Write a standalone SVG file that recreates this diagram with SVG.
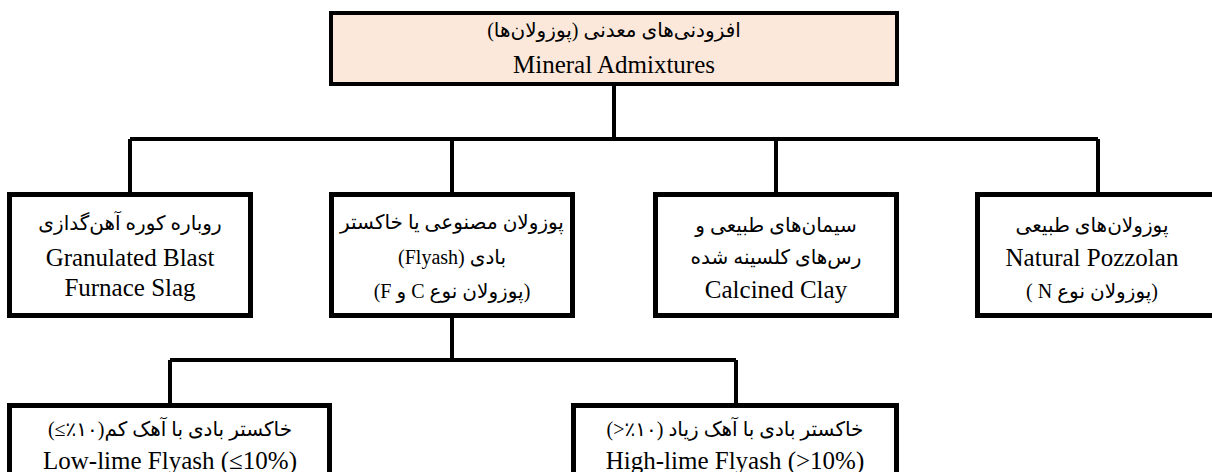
<svg xmlns="http://www.w3.org/2000/svg" width="1212" height="472" viewBox="0 0 1212 472">
<style>
.box{fill:#ffffff;stroke:#000;stroke-width:5}
.top{fill:#fce8da;stroke:#000;stroke-width:4}
.conn{stroke:#000;stroke-width:4;fill:none}
.en{font-family:'Liberation Serif','Times New Roman',serif;font-size:25px;fill:#000;text-anchor:middle}
.fa{font-family:'Liberation Serif','DejaVu Sans',sans-serif;font-size:20px;fill:#000;text-anchor:middle;direction:rtl}
</style>
<rect width="1212" height="472" fill="#fff"/>
<g id="connectors">
<path class="conn" d="M614 86V139M130 139H1098M130 139V194M452 139V194M776 139V194M1098 139V194"/>
<path class="conn" d="M452 317V360M170 360H736M170 360V405M736 360V405"/>
</g>
<g id="root">
<rect class="top" x="331" y="13" width="566" height="71"/>
<text class="fa" x="614" y="37" direction="rtl">افزودنی‌های معدنی (پوزولان‌ها)</text>
<text class="en" x="614" y="73" font-family="Liberation Serif, serif">Mineral Admixtures</text>
</g>
<g id="slag">
<rect class="box" x="9.5" y="194.5" width="241" height="121"/>
<text class="fa" x="130" y="230" direction="rtl">روباره کوره آهن‌گدازی</text>
<text class="en" x="130" y="266" font-family="Liberation Serif, serif">Granulated Blast</text>
<text class="en" x="130" y="296" font-family="Liberation Serif, serif">Furnace Slag</text>
</g>
<g id="flyash">
<rect class="box" x="331.5" y="194.5" width="241" height="121"/>
<text class="fa" x="452" y="229" direction="rtl">پوزولان مصنوعی یا خاکستر</text>
<text class="fa" x="452" y="264" direction="rtl">بادی (Flyash)</text>
<text class="fa" x="452" y="298" direction="rtl">(پوزولان نوع C و F)</text>
</g>
<g id="clay">
<rect class="box" x="655.5" y="194.5" width="241" height="121"/>
<text class="fa" x="776" y="232" direction="rtl">سیمان‌های طبیعی و</text>
<text class="fa" x="776" y="264" direction="rtl">رس‌های کلسینه شده</text>
<text class="en" x="776" y="298" font-family="Liberation Serif, serif">Calcined Clay</text>
</g>
<g id="natural">
<rect class="box" x="977.5" y="194.5" width="241" height="121"/>
<text class="fa" x="1092" y="232" direction="rtl">پوزولان‌های طبیعی</text>
<text class="en" x="1092" y="266" font-family="Liberation Serif, serif">Natural Pozzolan</text>
<text class="fa" x="1092" y="298" direction="rtl">(پوزولان نوع N )</text>
</g>
<g id="lowlime">
<rect class="box" x="9.5" y="405.5" width="320" height="80"/>
<text class="fa" x="170" y="436" direction="rtl">خاکستر بادی با آهک کم(۱۰٪≥)</text>
<text class="en" x="170" y="469" font-family="Liberation Serif, serif">Low-lime Flyash (≤10%)</text>
</g>
<g id="highlime">
<rect class="box" x="573.5" y="405.5" width="323" height="80"/>
<text class="fa" x="735" y="436" direction="rtl">خاکستر بادی با آهک زیاد (۱۰٪&lt;)</text>
<text class="en" x="735" y="469" font-family="Liberation Serif, serif">High-lime Flyash (&gt;10%)</text>
</g>
</svg>
